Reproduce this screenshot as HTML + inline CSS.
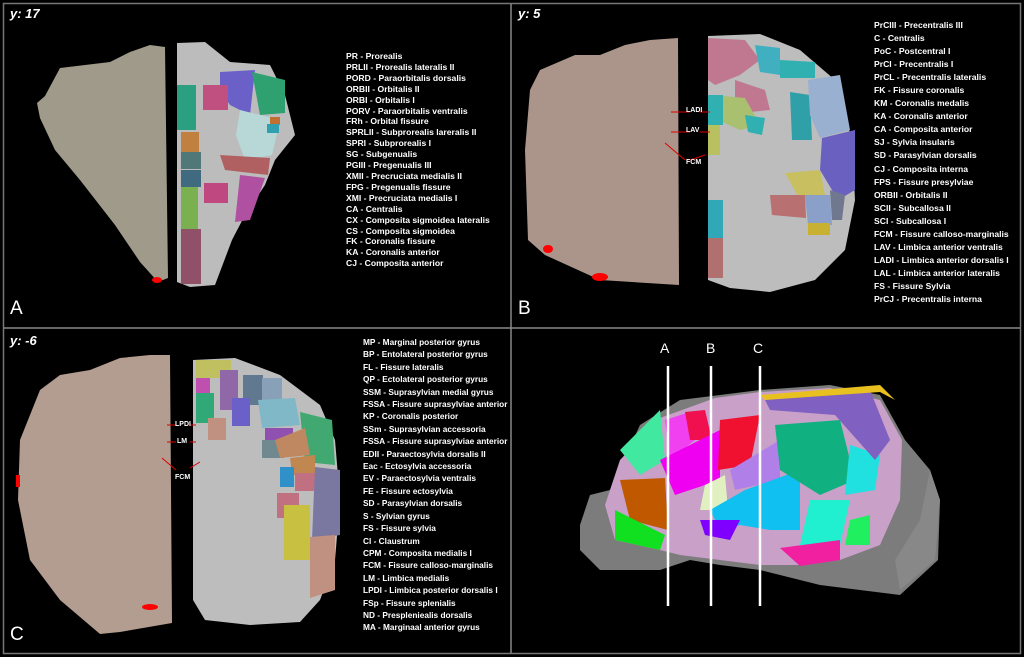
<!DOCTYPE html>
<html><head><style>
body{margin:0;background:#000;width:1024px;height:657px;overflow:hidden;position:relative;font-family:"Liberation Sans",sans-serif}
.leg{position:absolute;color:#fff;font-weight:bold;font-size:8.6px;white-space:pre;}
.t{position:absolute;color:#fff;font-style:italic;font-weight:bold;font-size:13px}
.L{position:absolute;color:#fff;font-size:19px}
svg{position:absolute;left:0;top:0}
</style></head><body>
<svg width="1024" height="657">
<rect x="3.5" y="3.5" width="1017" height="650" fill="none" stroke="#777" stroke-width="1.5"/>
<line x1="511" y1="4" x2="511" y2="653" stroke="#888" stroke-width="1.5"/>
<line x1="4" y1="328" x2="1020" y2="328" stroke="#888" stroke-width="1.5"/>
<!-- Panel A -->
<path d="M37,103 L45,96 L60,68 L110,62 L130,52 L150,45 L165,47 L168,278 L158,282 L140,262 L115,225 L80,180 L55,150 L40,118Z" fill="#a09a8a"/>
<path d="M177,43 L205,42 L230,62 L270,65 L285,95 L295,135 L275,160 L265,185 L245,215 L232,240 L215,285 L190,287 L177,282Z" fill="#bcbcbc"/>
<rect x="177" y="85" width="19" height="45" fill="#2aa080"/>
<rect x="181" y="132" width="18" height="20" fill="#c08040"/>
<rect x="181" y="152" width="20" height="17" fill="#507878"/>
<rect x="181" y="170" width="20" height="17" fill="#406a80"/>
<rect x="181" y="187" width="17" height="42" fill="#7ab050"/>
<rect x="181" y="229" width="20" height="55" fill="#905068"/>
<path d="M220,72 L255,70 L250,115 L230,105 L220,90Z" fill="#6a60c8"/>
<path d="M252,72 L285,80 L285,113 L260,115Z" fill="#2fa070"/>
<rect x="203" y="85" width="25" height="25" fill="#c05080"/>
<path d="M240,110 L280,120 L272,155 L245,160 L236,135Z" fill="#b8d8d8"/>
<path d="M220,155 L270,158 L268,175 L225,170Z" fill="#b06060"/>
<path d="M240,175 L265,178 L250,220 L235,222Z" fill="#b050a0"/>
<rect x="204" y="183" width="24" height="20" fill="#c04880"/>
<rect x="270" y="117" width="10" height="8" fill="#c07030"/>
<rect x="267" y="124" width="12" height="9" fill="#30a0b0"/>
<ellipse cx="157" cy="280" rx="5" ry="3" fill="#f00"/>
<!-- Panel B -->
<path d="M540,70 L575,55 L600,55 L625,45 L650,40 L678,38 L679,285 L600,280 L545,255 L528,240 L525,150 L530,90Z" fill="#ab958a"/>
<path d="M708,36 L760,34 L800,50 L835,80 L852,140 L855,200 L845,250 L815,280 L770,292 L730,288 L708,280Z" fill="#bdbdbd"/>
<path d="M708,38 L745,40 L760,60 L740,75 L715,85 L708,80Z" fill="#c07890"/>
<path d="M755,45 L780,48 L780,75 L760,72Z" fill="#40b0c0"/>
<path d="M780,60 L815,62 L815,78 L780,78Z" fill="#30b0b0"/>
<path d="M735,80 L765,90 L770,110 L750,112 L735,100Z" fill="#c07890"/>
<path d="M712,95 L745,98 L760,125 L740,130 L718,120Z" fill="#a8c070"/>
<path d="M745,115 L765,118 L762,135 L748,132Z" fill="#30b0b0"/>
<path d="M790,92 L810,95 L812,140 L792,140Z" fill="#30a0a8"/>
<path d="M808,80 L840,75 L850,130 L820,138 L810,115Z" fill="#9ab0d0"/>
<path d="M822,138 L855,130 L855,190 L838,200 L820,170Z" fill="#6a60c0"/>
<path d="M785,173 L820,170 L825,195 L800,200Z" fill="#c8c060"/>
<path d="M770,195 L805,195 L806,218 L772,215Z" fill="#b87070"/>
<path d="M805,195 L830,195 L832,225 L808,225Z" fill="#8aa0c8"/>
<path d="M830,190 L845,195 L842,220 L832,220Z" fill="#707890"/>
<rect x="808" y="223" width="22" height="12" fill="#c8b030"/>
<rect x="708" y="200" width="15" height="38" fill="#30a8b8"/>
<rect x="708" y="238" width="15" height="40" fill="#b07070"/>
<rect x="708" y="95" width="15" height="30" fill="#30b0b0"/>
<rect x="708" y="125" width="12" height="30" fill="#b8c060"/>
<path d="M546,248 L548,252" stroke="#f00"/>
<ellipse cx="548" cy="249" rx="5" ry="4" fill="#f00"/>
<ellipse cx="600" cy="277" rx="8" ry="4" fill="#f00"/>
<path d="M671,112 L690,112 M671,132 L690,132 M665,143 L685,160 M700,112 L710,112 M700,132 L710,132 M705,155 L690,160" stroke="#d00" stroke-width="1"/>
<!-- Panel C -->
<path d="M40,390 L60,375 L90,370 L120,358 L150,355 L170,355 L172,623 L120,632 L100,634 L60,600 L30,560 L18,500 L20,440Z" fill="#b39d91"/>
<path d="M193,360 L235,358 L280,375 L320,405 L335,440 L340,500 L335,560 L320,600 L300,622 L250,625 L205,620 L193,600Z" fill="#bdbdbd"/>
<rect x="196" y="360" width="35" height="18" fill="#c0c060"/>
<rect x="196" y="378" width="14" height="16" fill="#c050b0"/>
<rect x="196" y="393" width="18" height="30" fill="#30a878"/>
<rect x="220" y="370" width="18" height="40" fill="#9068a8"/>
<rect x="243" y="375" width="20" height="30" fill="#607890"/>
<rect x="262" y="378" width="20" height="30" fill="#88a0b8"/>
<rect x="232" y="398" width="18" height="28" fill="#6a60c8"/>
<path d="M258,400 L295,398 L300,425 L262,428Z" fill="#80b8c8"/>
<path d="M300,412 L332,420 L335,465 L305,462Z" fill="#40a870"/>
<rect x="265" y="428" width="28" height="12" fill="#9050b0"/>
<rect x="262" y="440" width="22" height="18" fill="#708890"/>
<path d="M275,440 L305,428 L310,455 L280,458Z" fill="#c08860"/>
<path d="M290,458 L315,455 L315,475 L292,475Z" fill="#c08850"/>
<rect x="280" y="467" width="14" height="20" fill="#3090c8"/>
<rect x="295" y="473" width="25" height="18" fill="#c07080"/>
<path d="M315,467 L340,470 L340,535 L312,540Z" fill="#7a78a0"/>
<rect x="277" y="493" width="22" height="25" fill="#c07080"/>
<rect x="284" y="505" width="26" height="55" fill="#c8c040"/>
<path d="M310,537 L335,535 L335,590 L310,598Z" fill="#c09080"/>
<rect x="208" y="418" width="18" height="22" fill="#c09080"/>
<rect x="16" y="475" width="4" height="12" fill="#f00"/>
<ellipse cx="150" cy="607" rx="8" ry="3" fill="#f00"/>
<path d="M167,425 L176,425 M167,442 L176,442 M162,458 L176,470 M190,425 L196,425 M190,442 L196,442 M190,468 L200,462" stroke="#d00" stroke-width="1"/>
<!-- Panel D brain -->
<path d="M580,525 L590,495 L610,490 L640,425 L680,400 L720,395 L760,390 L830,385 L880,395 L905,440 L930,470 L940,500 L938,560 L900,595 L820,585 L760,570 L720,565 L690,560 L660,570 L600,570 L580,550Z" fill="#7c7c7c"/>
<path d="M605,505 L620,460 L660,418 L715,398 L760,392 L830,388 L880,400 L902,440 L900,500 L880,545 L840,560 L800,565 L760,565 L720,560 L680,555 L660,550 L615,540Z" fill="#c8a0c8"/>
<path d="M620,450 L660,410 L665,460 L640,475Z" fill="#40e8a0"/>
<path d="M665,420 L690,412 L695,440 L670,460Z" fill="#f040f0"/>
<path d="M685,412 L705,410 L712,440 L690,440Z" fill="#f01050"/>
<path d="M660,460 L720,430 L720,480 L675,495Z" fill="#f000f0"/>
<path d="M720,420 L760,415 L750,465 L718,470Z" fill="#f01030"/>
<path d="M730,470 L780,440 L780,480 L735,490Z" fill="#b080e8"/>
<path d="M705,485 L725,475 L728,510 L700,510Z" fill="#e0f0c0"/>
<path d="M710,510 L745,490 L800,470 L800,530 L770,530 L740,525 L720,530Z" fill="#10c0f0"/>
<path d="M775,425 L840,420 L855,480 L820,495 L780,470Z" fill="#10b080"/>
<path d="M850,445 L880,455 L875,490 L845,495Z" fill="#20e0e0"/>
<path d="M810,500 L850,500 L840,545 L800,545Z" fill="#20f0d0"/>
<path d="M620,480 L665,478 L668,530 L630,520Z" fill="#c05800"/>
<path d="M615,510 L665,535 L660,550 L615,540Z" fill="#10e020"/>
<path d="M700,520 L740,520 L730,540 L705,535Z" fill="#8000ff"/>
<path d="M765,400 L870,390 L890,440 L875,460 L835,415 L770,410Z" fill="#8060c0"/>
<path d="M760,395 L880,385 L895,400 L880,392 L765,400Z" fill="#e8c020"/>
<path d="M930,470 L940,500 L935,560 L900,590 L895,560 L920,520Z" fill="#888"/>
<path d="M780,548 L840,540 L840,560 L800,566Z" fill="#f020a0"/>
<path d="M850,520 L870,515 L870,545 L845,545Z" fill="#20f060"/>
<line x1="668" y1="366" x2="668" y2="606" stroke="#fff" stroke-width="2.5"/>
<line x1="711" y1="366" x2="711" y2="606" stroke="#fff" stroke-width="2.5"/>
<line x1="760" y1="366" x2="760" y2="606" stroke="#fff" stroke-width="2.5"/>
</svg>
<div class="t" style="left:10px;top:6px">y: 17</div>
<div class="t" style="left:518px;top:6px">y: 5</div>
<div class="t" style="left:10px;top:333px">y: -6</div>
<div class="L" style="left:10px;top:298px">A</div>
<div class="L" style="left:518px;top:298px">B</div>
<div class="L" style="left:10px;top:624px">C</div>
<div style="position:absolute;left:660px;top:340px;color:#fff;font-size:14px">A</div>
<div style="position:absolute;left:706px;top:340px;color:#fff;font-size:14px">B</div>
<div style="position:absolute;left:753px;top:340px;color:#fff;font-size:14px">C</div>
<div class="leg" style="left:346px;top:51px;line-height:10.9px">PR - Prorealis
PRLII - Prorealis lateralis II
PORD - Paraorbitalis dorsalis
ORBII - Orbitalis II
ORBI - Orbitalis I
PORV - Paraorbitalis ventralis
FRh - Orbital fissure
SPRLII - Subprorealis lareralis II
SPRI - Subprorealis I
SG - Subgenualis
PGIII - Pregenualis III
XMII - Precruciata medialis II
FPG - Pregenualis fissure
XMI - Precruciata medialis I
CA - Centralis
CX - Composita sigmoidea lateralis
CS - Composita sigmoidea
FK - Coronalis fissure
KA - Coronalis anterior
CJ - Composita anterior</div>
<div class="leg" style="left:874px;top:19px;line-height:13.05px">PrCIII - Precentralis III
C - Centralis
PoC - Postcentral I
PrCI - Precentralis I
PrCL - Precentralis lateralis
FK - Fissure coronalis
KM - Coronalis medalis
KA - Coronalis anterior
CA - Composita anterior
SJ - Sylvia insularis
SD - Parasylvian dorsalis
CJ - Composita interna
FPS - Fissure presylviae
ORBII - Orbitalis II
SCII - Subcallosa II
SCI - Subcallosa I
FCM - Fissure calloso-marginalis
LAV - Limbica anterior ventralis
LADI - Limbica anterior dorsalis I
LAL - Limbica anterior lateralis
FS - Fissure Sylvia
PrCJ - Precentralis interna</div>
<div class="leg" style="left:363px;top:336px;line-height:12.4px;font-size:8.3px">MP - Marginal posterior gyrus
BP - Entolateral posterior gyrus
FL - Fissure lateralis
QP - Ectolateral posterior gyrus
SSM - Suprasylvian medial gyrus
FSSA - Fissure suprasylviae anterior
KP - Coronalis posterior
SSm - Suprasylvian accessoria
FSSA - Fissure suprasylviae anterior
EDII - Paraectosylvia dorsalis II
Eac - Ectosylvia accessoria
EV - Paraectosylvia ventralis
FE - Fissure ectosylvia
SD - Parasylvian dorsalis
S - Sylvian gyrus
FS - Fissure sylvia
Cl - Claustrum
CPM - Composita medialis I
FCM - Fissure calloso-marginalis
LM - Limbica medialis
LPDI - Limbica posterior dorsalis I
FSp - Fissure splenialis
ND - Prespleniealis dorsalis
MA - Marginaal anterior gyrus</div>
<div style="position:absolute;left:686px;top:107px;color:#fff;font-size:7px;font-weight:bold">LADI</div>
<div style="position:absolute;left:686px;top:127px;color:#fff;font-size:7px;font-weight:bold">LAV</div>
<div style="position:absolute;left:686px;top:159px;color:#fff;font-size:7px;font-weight:bold">FCM</div>
<div style="position:absolute;left:175px;top:421px;color:#fff;font-size:7px;font-weight:bold">LPDI</div>
<div style="position:absolute;left:177px;top:438px;color:#fff;font-size:7px;font-weight:bold">LM</div>
<div style="position:absolute;left:175px;top:474px;color:#fff;font-size:7px;font-weight:bold">FCM</div>
</body></html>
